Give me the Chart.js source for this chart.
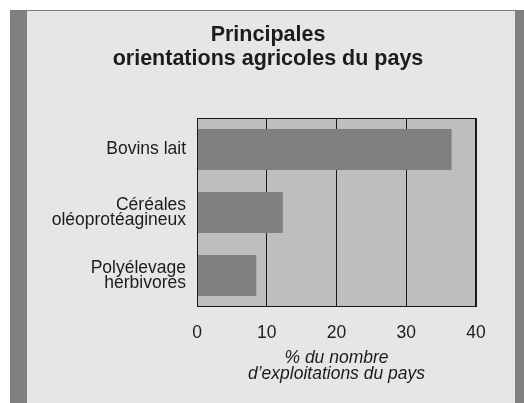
<!DOCTYPE html>
<html>
<head>
<meta charset="utf-8">
<script src="https://cdn.jsdelivr.net/npm/chart.js@4/dist/chart.umd.min.js"></script>
<style>
  html, body { margin: 0; padding: 0; background: #ffffff; }
  #wrap { width: 524px; height: 403px; position: relative; }
</style>
</head>
<body>
<div id="wrap"><canvas id="chart"></canvas></div>
<script>
// Données
const categories = [['Bovins lait'], ['Céréales', 'oléoprotéagineux'], ['Polyélevage', 'herbivores']];
const valeurs = [36.5, 12.3, 8.5];
const ticksX = [0, 10, 20, 30, 40];
const titre = ['Principales', 'orientations agricoles du pays'];
const titreAxe = ['% du nombre', 'd\u2019exploitations du pays'];

const texte = '#1e1b1c';
const police = 'Liberation Sans, Arial, sans-serif';

// cadre gris, fond du graphique et titre centré sur le panneau
const fondPlugin = {
    id: 'fond',
    beforeDraw(chart) {
        const c = chart.ctx;
        c.save();
        c.fillStyle = '#ffffff';
        c.fillRect(0, 0, chart.width, chart.height);
        c.fillStyle = '#808080';
        c.fillRect(10, 10, 514, 393);
        c.fillStyle = '#e6e6e7';
        c.fillRect(27, 11, 488, 392);
        const a = chart.chartArea;
        c.fillStyle = '#bebebe';
        c.fillRect(a.left, a.top, a.right - a.left, a.bottom - a.top);
        c.restore();
    },
    afterDraw(chart) {
        const c = chart.ctx;
        const a = chart.chartArea;
        c.save();
        c.strokeStyle = '#1a1a1a';
        c.lineWidth = 1;
        c.strokeRect(Math.round(a.left) + 0.5, Math.round(a.top) + 0.5,
            Math.round(a.right - a.left) - 1, Math.round(a.bottom - a.top) - 1);
        c.fillStyle = texte;
        c.font = 'bold 21.5px ' + police;
        c.textAlign = 'center';
        c.textBaseline = 'alphabetic';
        titre.forEach((l, i) => c.fillText(l, 268, 41 + i * 23.5));
        c.restore();
    }
};

new Chart(document.getElementById('chart').getContext('2d'), {
    type: 'bar',
    data: {
        labels: categories,
        datasets: [{
            data: valeurs,
            backgroundColor: '#808080',
            borderWidth: 0,
            categoryPercentage: 1,
            barPercentage: 0.65
        }]
    },
    options: {
        indexAxis: 'y',
        responsive: true,
        maintainAspectRatio: false,
        animation: false,
        layout: { padding: { left: 27, right: 48, top: 118, bottom: 0 } },
        plugins: {
            legend: { display: false },
            tooltip: { enabled: false },
            title: { display: false }
        },
        scales: {
            x: {
                type: 'linear',
                min: ticksX[0],
                max: ticksX[ticksX.length - 1],
                afterBuildTicks(scale) {
                    scale.ticks = ticksX.map(v => ({ value: v }));
                },
                afterFit(scale) { scale.height = 96; },
                grid: { color: '#1a1a1a', lineWidth: 1, drawTicks: false },
                border: { display: false },
                ticks: {
                    color: texte,
                    padding: 16,
                    font: { family: police, size: 17.5 }
                },
                title: {
                    display: true,
                    text: titreAxe,
                    color: texte,
                    font: { family: police, size: 17.5, style: 'italic', lineHeight: '16px' },
                    padding: { top: 0, bottom: 21 }
                }
            },
            y: {
                afterFit(scale) { scale.width = 170; },
                grid: { display: false, drawTicks: false },
                border: { display: false },
                ticks: {
                    color: texte,
                    padding: 11,
                    font: { family: police, size: 17.5, lineHeight: '15.5px' }
                }
            }
        }
    },
    plugins: [fondPlugin]
});
</script>
</body>
</html>
